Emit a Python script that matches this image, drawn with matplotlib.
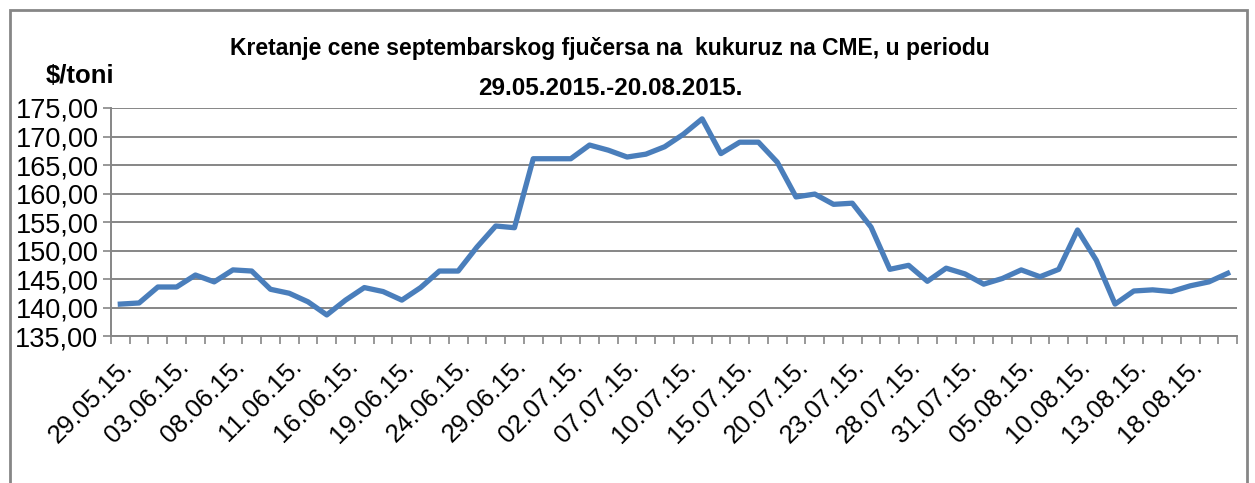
import matplotlib.pyplot as plt
from matplotlib.patches import Rectangle

dates = ["29.05.15.", "01.06.15.", "02.06.15.", "03.06.15.", "04.06.15.",
         "05.06.15.", "08.06.15.", "09.06.15.", "10.06.15.", "11.06.15.",
         "12.06.15.", "15.06.15.", "16.06.15.", "17.06.15.", "18.06.15.",
         "19.06.15.", "22.06.15.", "23.06.15.", "24.06.15.", "25.06.15.",
         "26.06.15.", "29.06.15.", "30.06.15.", "01.07.15.", "02.07.15.",
         "03.07.15.", "06.07.15.", "07.07.15.", "08.07.15.", "09.07.15.",
         "10.07.15.", "13.07.15.", "14.07.15.", "15.07.15.", "16.07.15.",
         "17.07.15.", "20.07.15.", "21.07.15.", "22.07.15.", "23.07.15.",
         "24.07.15.", "27.07.15.", "28.07.15.", "29.07.15.", "30.07.15.",
         "31.07.15.", "03.08.15.", "04.08.15.", "05.08.15.", "06.08.15.",
         "07.08.15.", "10.08.15.", "11.08.15.", "12.08.15.", "13.08.15.",
         "14.08.15.", "17.08.15.", "18.08.15.", "19.08.15.", "20.08.15."]

prices = [140.6, 140.8, 143.6, 143.6, 145.7, 144.5, 146.6, 146.4, 143.2, 142.5,
          141.0, 138.7, 141.3, 143.5, 142.8, 141.3, 143.5, 146.4, 146.4, 150.6,
          154.3, 154.0, 166.1, 166.1, 166.1, 168.5, 167.6, 166.4, 166.9, 168.2,
          170.4, 173.1, 167.0, 169.0, 169.0, 165.5, 159.4, 159.9, 158.1, 158.3,
          154.1, 146.7, 147.4, 144.6, 146.9, 145.9, 144.1, 145.1, 146.6, 145.4,
          146.7, 153.6, 148.3, 140.6, 142.9, 143.1, 142.8, 143.8, 144.5, 146.0]

y_ticks = [135, 140, 145, 150, 155, 160, 165, 170, 175]

title1 = "Kretanje cene septembarskog fjučersa na  kukuruz na CME, u periodu"
title2 = "29.05.2015.-20.08.2015."


def plot_prices():
    fig = plt.figure(figsize=(12.55, 4.83), dpi=100)
    ax = fig.add_axes([0.0884, 0.3043, 0.8973, 0.4721])

    x = list(range(len(prices)))
    ax.plot(x, prices, color='#4A7EBB', linewidth=3.8, solid_joinstyle='round')

    ax.set_xlim(-0.5, len(prices) - 0.5)
    ax.set_ylim(135, 175)

    # y axis, decimal comma
    ax.set_yticks(y_ticks)
    ax.set_yticklabels([("%.2f" % v).replace('.', ',') for v in y_ticks],
                       family='Liberation Sans', fontsize=19.5)
    ax.grid(axis='y', color='#868686', linewidth=1.4)
    ax.tick_params(axis='y', length=6, width=1.2, color='#868686', pad=3)

    # x axis: tick marks between categories, labels every third day
    ax.set_xticks([i - 0.5 for i in range(len(prices) + 1)], minor=True)
    ax.set_xticks(x[::3])
    ax.set_xticklabels(dates[::3], rotation=45, ha='right', va='top',
                       rotation_mode='anchor', family='Liberation Sans', fontsize=18.5)
    ax.tick_params(axis='x', which='major', length=0, pad=13)
    ax.tick_params(axis='x', which='minor', length=6, width=1.2, color='#868686')

    for side in ['top', 'right']:
        ax.spines[side].set_visible(False)
    for side in ['left', 'bottom']:
        ax.spines[side].set_color('#868686')
        ax.spines[side].set_linewidth(1.4)

    fig.text(0.486, 0.900, title1, ha='center', va='center', fontsize=16.5,
             fontweight='bold', family='Liberation Sans')
    fig.text(0.486, 0.817, title2, ha='center', va='center', fontsize=17.5,
             fontweight='bold', family='Liberation Sans')
    fig.text(0.064, 0.843, "$/toni", ha='center', va='center', fontsize=18.5,
             fontweight='bold', family='Liberation Sans')

    fig.patches.append(Rectangle((0.008, -0.05), 0.986, 1.03, transform=fig.transFigure,
                                 fill=False, edgecolor='#868686', linewidth=2))

    fig.savefig('out.png', dpi=100)


if __name__ == "__main__":
    plot_prices()
